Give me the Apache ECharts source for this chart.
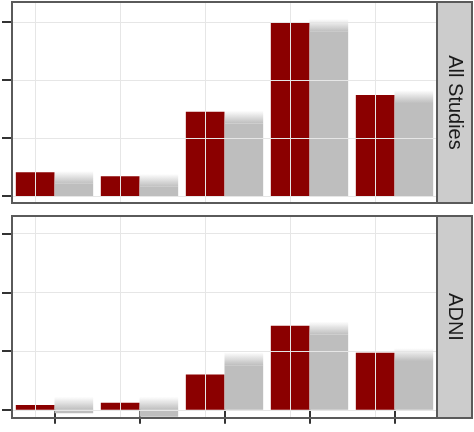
<!DOCTYPE html><html><head><meta charset="utf-8">
<script src="https://cdn.jsdelivr.net/npm/echarts@6/dist/echarts.min.js"></script>
<style>html,body{margin:0;padding:0;background:#fff}#c{width:474px;height:432px}</style></head><body><div id="c"></div>
<script>
const categories = ['1','2','3','4','5'];
const panels = ['All Studies','ADNI'];
const redAll = [0.41,0.34,1.45,2.98,1.74];
const grayAll = [0.43,0.38,1.47,3.05,1.82];
const redADNI = [0.08,0.12,0.60,1.43,0.97];
const grayADNI = [0.16,0.10,0.98,1.50,1.05];
const yTicks = [0,1,2,3];
const fade = 0.22;

const chart = echarts.init(document.getElementById('c'));
const grids = [{left:12,width:425,top:2,height:201},{left:12,width:425,top:216,height:202}];
const yr = [[-0.12,3.34],[-0.14,3.3]];
const xAxis=[],yAxis=[],series=[];
[[redAll,grayAll],[redADNI,grayADNI]].forEach(([r,g],i)=>{
  xAxis.push({type:'category',gridIndex:i,data:categories,axisLine:{show:false},
    axisLabel:{show:false},axisTick:{show:i===1,alignWithLabel:true,length:14,lineStyle:{color:'#333',width:2}},splitLine:{show:false}});
  yAxis.push({type:'value',gridIndex:i,min:yr[i][0],max:yr[i][1],axisLine:{show:false},axisLabel:{show:false},
    axisTick:{show:true,length:10,customValues:yTicks,lineStyle:{color:'#333',width:2}},splitLine:{show:false}});
  const ml = {silent:true,symbol:'none',label:{show:false},lineStyle:{color:'#e6e6e6',width:1,type:'solid'},
    data:categories.map(c=>({xAxis:c})).concat(yTicks.map(v=>({yAxis:v})))};
  series.push({type:'bar',xAxisIndex:i,yAxisIndex:i,data:r,itemStyle:{color:'#8b0000'},barGap:'0%',barCategoryGap:'9%',markLine:ml,z:3});
  series.push({type:'bar',xAxisIndex:i,yAxisIndex:i,stack:'g'+i,data:g.map(v=>v-fade),itemStyle:{color:'#bebebe'},z:3});
  series.push({type:'bar',xAxisIndex:i,yAxisIndex:i,stack:'g'+i,data:g.map(()=>fade),z:3,
    itemStyle:{color:new echarts.graphic.LinearGradient(0,0,0,1,[{offset:0,color:'rgba(190,190,190,0)'},{offset:1,color:'rgba(190,190,190,1)'}])}});
});
const graphic=[];
grids.forEach((g,i)=>{
  graphic.push({type:'rect',shape:{x:g.left,y:g.top,width:g.width,height:g.height},style:{fill:'none',stroke:'#5a5a5a',lineWidth:2},z:10});
  graphic.push({type:'rect',shape:{x:g.left+g.width,y:g.top,width:35,height:g.height},style:{fill:'#cccccc',stroke:'#5a5a5a',lineWidth:2},z:10});
  graphic.push({type:'text',x:g.left+g.width+17.5,y:g.top+g.height/2,rotation:-Math.PI/2,z:11,
    style:{text:panels[i],fill:'#1a1a1a',font:'20px "Liberation Sans", Arial, sans-serif',align:'center',verticalAlign:'middle'}});
});
chart.setOption({animation:false,grid:grids,xAxis,yAxis,series,graphic});
</script></body></html>
